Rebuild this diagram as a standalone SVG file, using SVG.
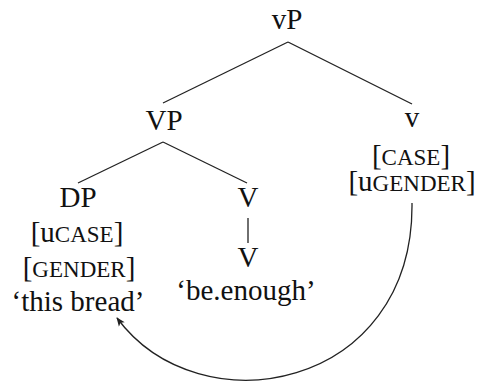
<svg xmlns="http://www.w3.org/2000/svg" width="478" height="385" viewBox="0 0 478 385">
<style>
text{font-family:"Liberation Serif","DejaVu Serif",serif;font-size:29px;fill:#111;text-anchor:middle}
.sc{font-size:23px}
.edge{stroke:#222;stroke-width:1.3;fill:none}
</style>
<defs>
<marker id="ah" viewBox="0 0 10 10" refX="9" refY="5" markerWidth="9" markerHeight="9" markerUnits="userSpaceOnUse" orient="auto">
<path d="M0,1 L10,5 L0,9 L2.5,5 Z" fill="#222"/>
</marker>
</defs>
<rect width="478" height="385" fill="#fff"/>
<g id="connectors">
<line class="edge" x1="288" y1="42" x2="163" y2="103"/>
<line class="edge" x1="288" y1="42" x2="412" y2="104"/>
<line class="edge" x1="163" y1="142" x2="78" y2="183"/>
<line class="edge" x1="163" y1="142" x2="247" y2="183"/>
<line class="edge" x1="248" y1="218" x2="248" y2="243"/>
<path class="edge" d="M412,203 C414,390 200,430 117,318" marker-end="url(#ah)"/>
</g>
<g id="vP"><text x="287" y="29">vP</text></g>
<g id="VP"><text x="164" y="130">VP</text></g>
<g id="v">
<text x="412" y="127">v</text>
<text x="411" y="165">[<tspan class="sc">CASE</tspan>]</text>
<text x="412" y="191">[u<tspan class="sc">GENDER</tspan>]</text>
</g>
<g id="DP">
<text x="78" y="207">DP</text>
<text x="77" y="242">[u<tspan class="sc">CASE</tspan>]</text>
<text x="79" y="277">[<tspan class="sc">GENDER</tspan>]</text>
<text x="78" y="311">‘this bread’</text>
</g>
<g id="V1"><text x="248" y="207">V</text></g>
<g id="V2">
<text x="248" y="267">V</text>
<text x="246" y="300">‘be.enough’</text>
</g>
</svg>
